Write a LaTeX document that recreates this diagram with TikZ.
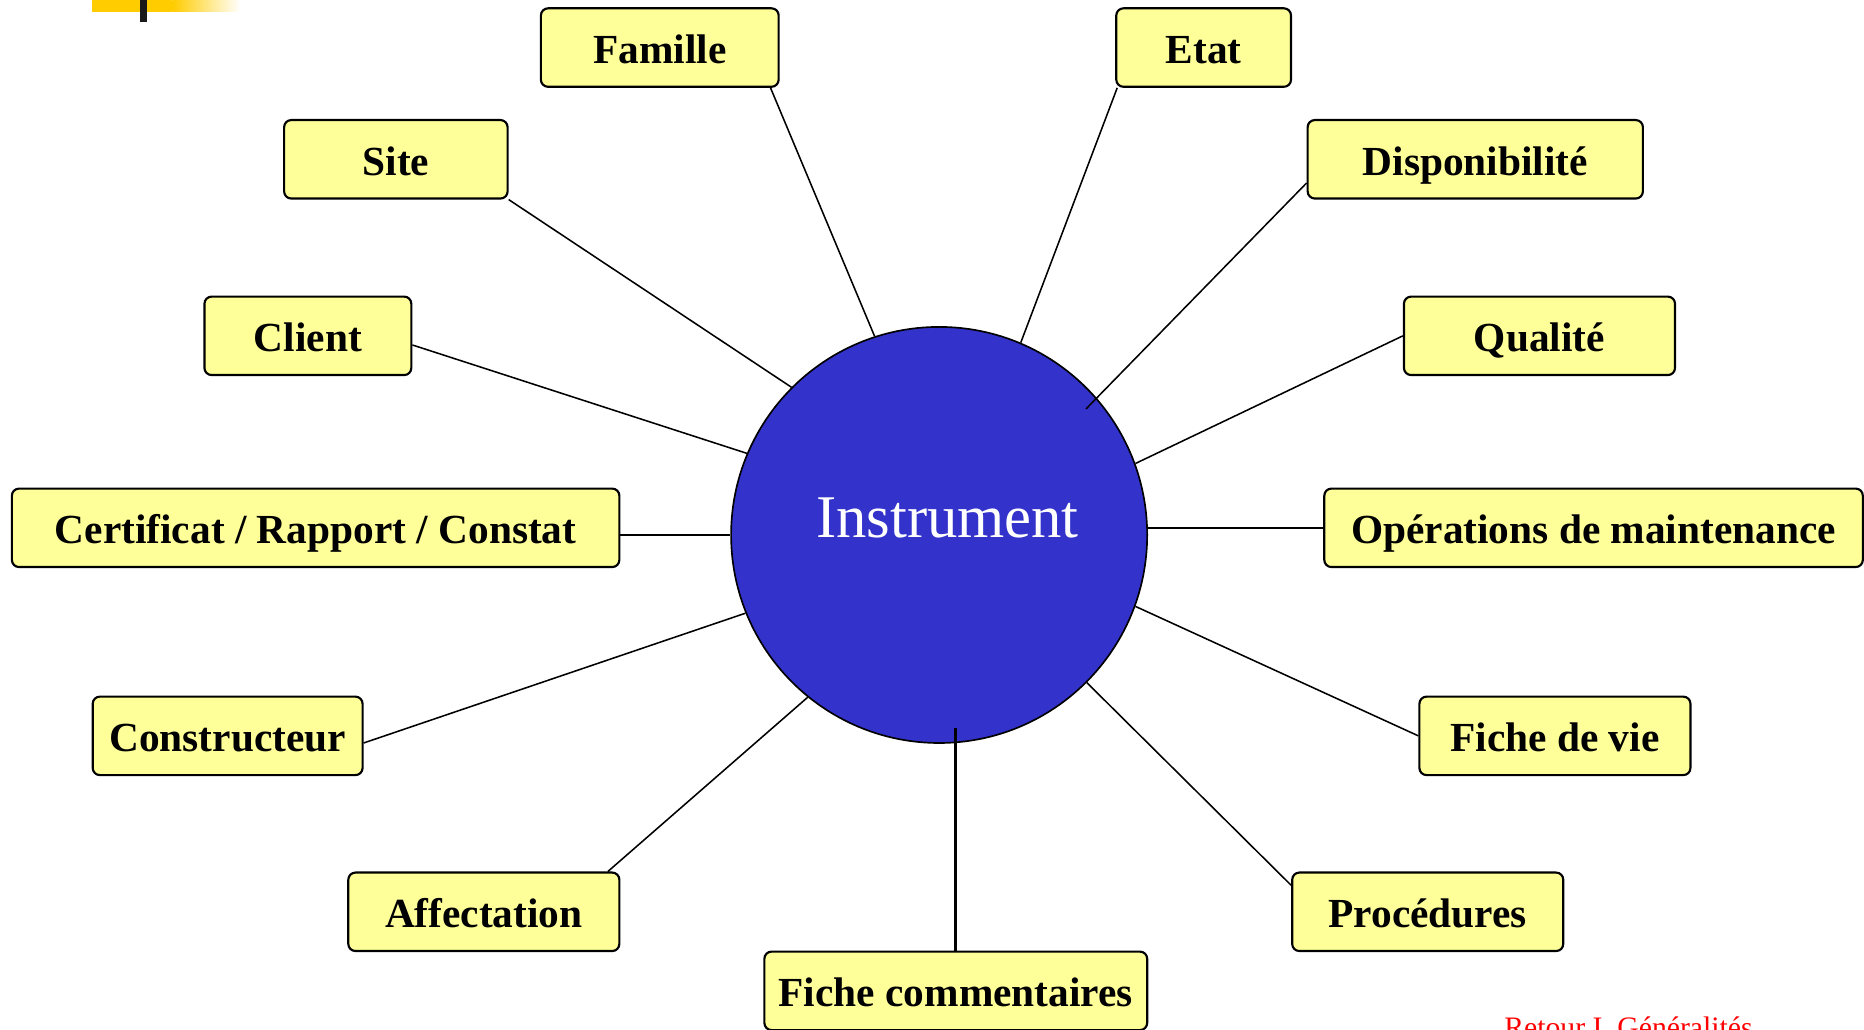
\documentclass[tikz,border=0pt]{standalone}
\usepackage{fontspec}
\setmainfont{Liberation Serif}
\definecolor{jauneboite}{HTML}{FFFF99}
\definecolor{bleuinstr}{HTML}{3333CC}
\definecolor{jaunebandeau}{HTML}{FFCC00}
\begin{document}
\begin{tikzpicture}[x=0.5pt,y=-0.5pt]
% Styles
\tikzstyle{boite}=[draw,fill=jauneboite,rounded corners=3pt,line width=0.9pt,minimum height=33pt,inner sep=0pt,text height=15pt,text depth=1.5pt,font=\fontsize{17.4}{20}\selectfont\bfseries]
\tikzstyle{centre}=[circle,draw,fill=bleuinstr,line width=0.7pt,minimum size=175pt,inner sep=0pt]
\tikzstyle{lien}=[line width=0.65pt]
% Cadre
\clip (0,0) rectangle (1568,866);
% Bandeau
\fill[jaunebandeau] (77,0) rectangle (145,10);
\shade[left color=jaunebandeau,right color=white] (145,0) rectangle (202,10);
\fill[black!90] (118,0) rectangle (124,18.5);
% Noeuds
\node[centre] (Instr) at (790,450) {};
\node[text=white,inner sep=0pt,anchor=base,font=\fontsize{25.5}{28}\selectfont] (InstrTexte) at (797,452) {Instrument};
\node[boite,minimum width=100pt] (Famille) at (555,40) {Famille};
\node[boite,minimum width=73.5pt] (Etat) at (1012.5,40) {Etat};
\node[boite,minimum width=94pt] (Site) at (333,134) {Site};
\node[boite,minimum width=141pt] (Dispo) at (1241,134) {Disponibilité};
\node[boite,minimum width=87pt] (Client) at (259,282.5) {Client};
\node[boite,minimum width=114pt] (Qualite) at (1295,282.5) {Qualité};
\node[boite,minimum width=255.5pt] (Certif) at (265.5,444) {Certificat / Rapport / Constat};
\node[boite,minimum width=226.5pt] (Operations) at (1340.5,444) {Opérations de maintenance};
\node[boite,minimum width=113.5pt] (Constr) at (191.5,619) {Constructeur};
\node[boite,minimum width=114pt] (FicheVie) at (1308,619) {Fiche de vie};
\node[boite,minimum width=114pt] (Affect) at (407,767) {Affectation};
\node[boite,minimum width=114pt] (Proced) at (1201,767) {Procédures};
\node[boite,minimum width=161pt] (FicheCom) at (804,833.5) {Fiche commentaires};
\node[text=red,inner sep=0pt,anchor=base west,font=\fontsize{12.5}{14}\selectfont] (Retour) at (1265,872.5) {Retour I. Généralités};
\coordinate (InstrBas) at (804,612);
% Arcs
\draw[lien] (Famille.-20.5) -- (Instr.108.5);
\draw[lien] (Etat.205) -- (Instr.67);
\draw[lien] (Site.south east) -- (Instr.135);
\draw[lien,shorten >=-6.5pt] (Dispo.188.5) -- (Instr.41);
\draw[lien] (Client.-5) -- (Instr.157.5);
\draw[lien] (Qualite.west) -- (Instr.20);
\draw[lien] (Certif.east |- Instr.west) -- (Instr.west);
\draw[lien] (Operations.west) -- (Operations.west -| Instr.east);
\draw[lien] (Constr.-3.5) -- (Instr.202.8);
\draw[lien] (FicheVie.west) -- (Instr.-20.6);
\draw[lien] (Affect.18) -- (Instr.231.5);
\draw[lien] (Proced.169.6) -- (Instr.-45);
\draw[lien,line width=1.1pt] (FicheCom.north) -- (InstrBas);
\end{tikzpicture}
\end{document}
